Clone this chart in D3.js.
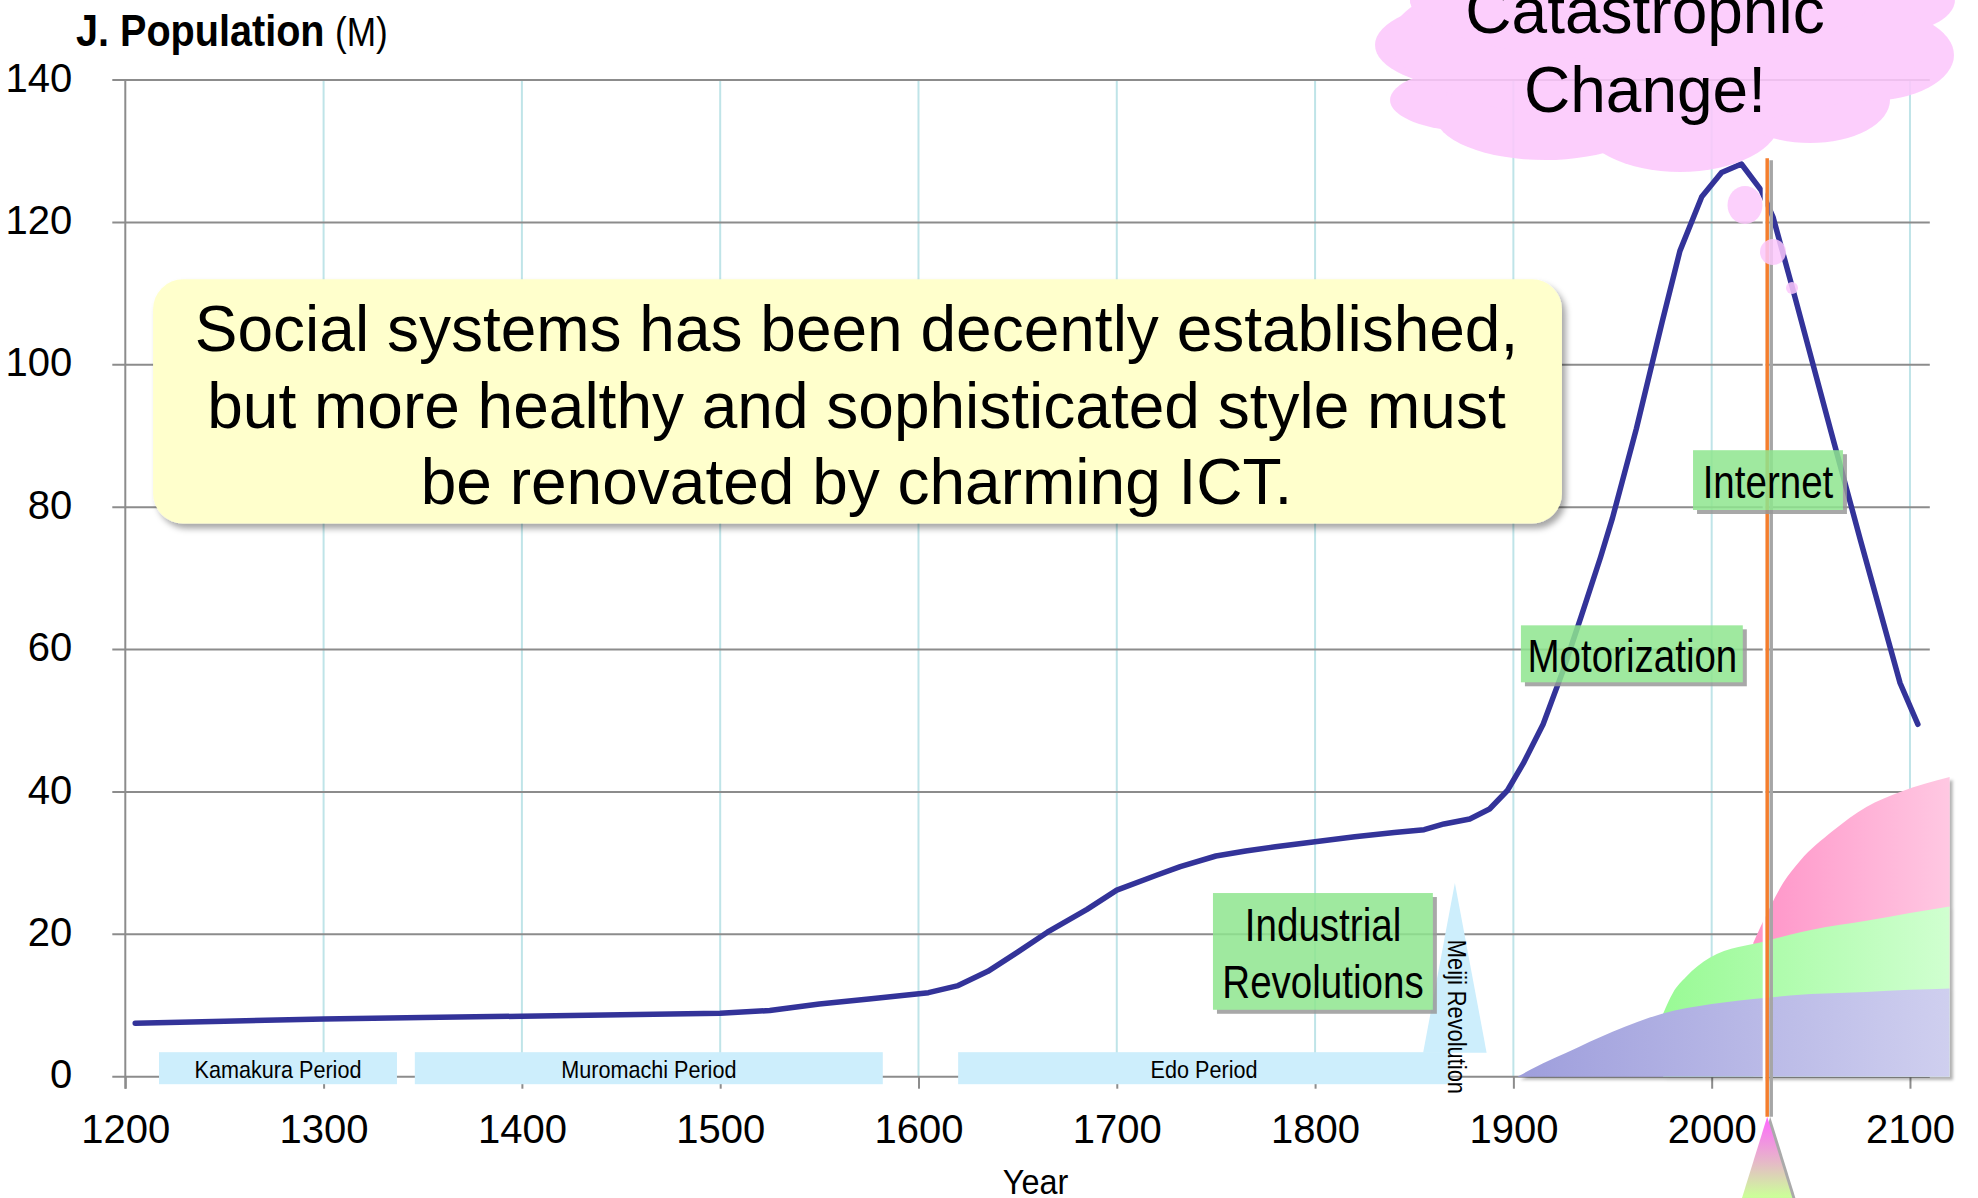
<!DOCTYPE html>
<html>
<head>
<meta charset="utf-8">
<script src="https://cdn.jsdelivr.net/npm/d3@7"></script>
<style>
  html, body { margin: 0; padding: 0; background: #fff; overflow: hidden; }
  svg { display: block; }
  text { font-family: "Liberation Sans", Arial, sans-serif; fill: #000; }
</style>
</head>
<body>
<svg id="chart" width="1978" height="1198"></svg>
<script>

// population of Japan, millions
const popYears  = [1205, 1250, 1300, 1350, 1400, 1450, 1500, 1525, 1550, 1575,
                   1605, 1620, 1635, 1650, 1665, 1685, 1700, 1720, 1732, 1750,
                   1765, 1780, 1800, 1820, 1840, 1855, 1865, 1878, 1888, 1897,
                   1905, 1915, 1925, 1934, 1944, 1950, 1962, 1975, 1984, 1995,
                   2005, 2015, 2025, 2031, 2042, 2060, 2075, 2095, 2104];
const popValues = [7.5, 7.8, 8.1, 8.3, 8.5, 8.7, 8.9, 9.3, 10.2, 10.9,
                   11.8, 12.8, 14.8, 17.5, 20.3, 23.5, 26.2, 28.3, 29.5, 31,
                   31.7, 32.3, 33, 33.7, 34.3, 34.7, 35.5, 36.2, 37.6, 40.2,
                   44, 49.5, 57, 64.5, 73, 78.5, 91, 106, 116, 123.6,
                   127, 128.2, 124.5, 120.7, 109.5, 90.8, 75.4, 55.3, 49.5];

const xTicks = [1200, 1300, 1400, 1500, 1600, 1700, 1800, 1900, 2000, 2100];
const yTicks = [0, 20, 40, 60, 80, 100, 120, 140];

// historical periods
const periodNames = ["Kamakura Period", "Muromachi Period", "Edo Period"];
const periodStart = [1217, 1346, 1620];
const periodEnd   = [1337, 1582, 1868];

// ICT growth layers (top edge of each band)
const blueYears  = [1902, 1915, 1927, 1950, 1975, 2000, 2028, 2050, 2078, 2100, 2120];
const blueTop    = [0, 1.9, 3.4, 6.3, 8.85, 10.2, 11.1, 11.6, 11.9, 12.2, 12.4];
const greenYears = [1975.5, 1980.5, 1987, 1999, 2028, 2050, 2078, 2100, 2120];
const greenTop   = [8.85, 11.8, 14, 16.7, 19.1, 20.6, 21.9, 23, 23.9];
const pinkYears  = [2021, 2028, 2036, 2044.5, 2061, 2078, 2095, 2120];
const pinkTop    = [18.8, 23, 27.2, 30.3, 34.5, 37.9, 40, 42.1];

const milestoneYear = 2028;

const svg = d3.select("#chart");
const x = d3.scaleLinear().domain([1200, 2110]).range([125.3, 1929.8]);
const y = d3.scaleLinear().domain([0, 140]).range([1076.7, 80]);

const defs = svg.append("defs");

let grad = (id, stops, vertical) => {
  let g = defs.append("linearGradient").attr("id", id)
    .attr("x1", 0).attr("y1", 0)
    .attr("x2", vertical ? 0 : 1).attr("y2", vertical ? 1 : 0);
  stops.forEach(([o, c]) => g.append("stop").attr("offset", o).attr("stop-color", c));
};
grad("gBlue",  [[0, "#9e9edc"], [1, "#cfcfef"]]);
grad("gGreen", [[0, "#99fa95"], [1, "#d0ffd0"]]);
grad("gPink",  [[0, "#ff94c8"], [1, "#ffc8e2"]]);
grad("gTri",   [[0, "#ff66ff"], [0.45, "#e6b8c8"], [0.8, "#ccff99"], [1, "#99b0dd"]], true);

let shadow = defs.append("filter").attr("id", "shadow")
  .attr("x", "-5%").attr("y", "-5%").attr("width", "115%").attr("height", "120%");
shadow.append("feDropShadow").attr("dx", 4).attr("dy", 5)
  .attr("stdDeviation", 3).attr("flood-color", "#000").attr("flood-opacity", 0.35);

let areaShadow = defs.append("filter").attr("id", "areaShadow")
  .attr("x", "-5%").attr("y", "-5%").attr("width", "115%").attr("height", "120%");
areaShadow.append("feDropShadow").attr("dx", 3).attr("dy", 3)
  .attr("stdDeviation", 1.5).attr("flood-color", "#000").attr("flood-opacity", 0.3);

// ---- grid
svg.append("g").selectAll("line")
  .data(xTicks.slice(1))
  .join("line")
    .attr("x1", d => x(d)).attr("x2", d => x(d))
    .attr("y1", y(140)).attr("y2", y(0))
    .attr("stroke", "#bfe4e8").attr("stroke-width", 2);

svg.append("g").selectAll("line")
  .data(yTicks)
  .join("line")
    .attr("x1", x(1200) - 13).attr("x2", x(2110))
    .attr("y1", d => y(d)).attr("y2", d => y(d))
    .attr("stroke", "#8c8c8c").attr("stroke-width", 2);

svg.append("line")
  .attr("x1", x(1200)).attr("x2", x(1200))
  .attr("y1", y(140)).attr("y2", y(0) + 12)
  .attr("stroke", "#8c8c8c").attr("stroke-width", 2);

// ---- axes
let xAxis = svg.append("g")
  .attr("transform", `translate(0,${y(0)})`)
  .call(d3.axisBottom(x).tickValues(xTicks).tickSize(12).tickFormat(d3.format("d")));
xAxis.select(".domain").remove();
xAxis.selectAll(".tick line").attr("stroke", "#8c8c8c").attr("stroke-width", 2);
xAxis.selectAll(".tick text")
  .attr("y", 66).attr("dy", null)
  .style("font-size", "40px").style("font-family", "Liberation Sans, Arial, sans-serif");

let yAxis = svg.append("g")
  .attr("transform", `translate(${x(1200)},0)`)
  .call(d3.axisLeft(y).tickValues(yTicks).tickSize(0).tickPadding(53));
yAxis.select(".domain").remove();
yAxis.selectAll(".tick text")
  .attr("dy", "0.28em")
  .style("font-size", "40px").style("font-family", "Liberation Sans, Arial, sans-serif");

// ---- ICT growth bands
let bandArea = d3.area().curve(d3.curveMonotoneX)
  .x(d => x(d[0])).y0(y(0)).y1(d => y(d[1]));

let bands = svg.append("g").attr("filter", "url(#areaShadow)");
[[pinkYears, pinkTop, "gPink"], [greenYears, greenTop, "gGreen"], [blueYears, blueTop, "gBlue"]]
  .forEach(([ys, vs, fill]) => {
    bands.append("path")
      .datum(d3.zip(ys, vs))
      .attr("d", bandArea)
      .attr("fill", `url(#${fill})`);
  });

// ---- periods
let periodColor = "#cdeefc";
let periods = svg.append("g");
periods.selectAll("rect")
  .data(d3.range(periodNames.length))
  .join("rect")
    .attr("x", i => x(periodStart[i]))
    .attr("width", i => x(periodEnd[i]) - x(periodStart[i]))
    .attr("y", y(0) - 24.5).attr("height", 32)
    .attr("fill", periodColor);

let narrow = (parent, str, px, py, size, sx, anchor) => parent.append("text")
  .attr("transform", `translate(${px},${py}) scale(${sx},1)`)
  .attr("text-anchor", anchor || "middle")
  .style("font-size", size + "px")
  .text(str);

periodNames.forEach((name, i) => {
  narrow(periods, name, x((periodStart[i] + periodEnd[i]) / 2), y(0) + 0.8, 24, 0.9);
});

// Meiji revolution marker
let meiji = { apex: 1870.5, left: 1854.5, right: 1886.5, top: 27.2 };
periods.append("path")
  .attr("d", `M${x(meiji.left)},${y(0) - 24} L${x(meiji.apex)},${y(meiji.top)} L${x(meiji.right)},${y(0) - 24} Z`)
  .attr("fill", periodColor);
periods.append("text")
  .attr("transform", `translate(${x(meiji.apex) - 7},${y(8.4)}) rotate(90) scale(0.84,1)`)
  .attr("text-anchor", "middle")
  .style("font-size", "26px")
  .text("Meiji Revolution");

// ---- callout
let callout = { x0: 1214, x1: 1924.5, top: 112, bottom: 77.7 };
let cg = svg.append("g");
cg.append("rect")
  .attr("x", x(callout.x0)).attr("y", y(callout.top))
  .attr("width", x(callout.x1) - x(callout.x0))
  .attr("height", y(callout.bottom) - y(callout.top))
  .attr("rx", 30).attr("ry", 30)
  .attr("fill", "#ffffcc")
  .attr("filter", "url(#shadow)");
["Social systems has been decently established,",
 "but more healthy and sophisticated style must",
 "be renovated by charming ICT."].forEach((line, i) => {
  cg.append("text")
    .attr("x", x((callout.x0 + callout.x1) / 2) - 1)
    .attr("y", y(callout.top) + 72 + i * 76.5)
    .attr("text-anchor", "middle")
    .style("font-size", "64px")
    .text(line);
});

// ---- population line
svg.append("path")
  .datum(d3.zip(popYears, popValues))
  .attr("d", d3.line().x(d => x(d[0])).y(d => y(d[1])))
  .attr("fill", "none")
  .attr("stroke", "#333399")
  .attr("stroke-width", 5.5)
  .attr("stroke-linejoin", "round")
  .attr("stroke-linecap", "round");

// ---- milestone line and arrow
let mx = x(milestoneYear);
let mg = svg.append("g");
mg.append("line").attr("x1", mx + 4).attr("x2", mx + 4).attr("y1", y(129) + 2).attr("y2", y(0) + 40)
  .attr("stroke", "#a6a6a6").attr("stroke-width", 3.5);
mg.append("line").attr("x1", mx - 3).attr("x2", mx - 3).attr("y1", y(129)).attr("y2", y(0) + 40)
  .attr("stroke", "#fff").attr("stroke-width", 3);
mg.append("line").attr("x1", mx).attr("x2", mx).attr("y1", y(129)).attr("y2", y(0) + 40)
  .attr("stroke", "#f47e2e").attr("stroke-width", 3.5);
mg.append("path")
  .attr("d", `M${mx + 3},${y(0) + 40} L${mx + 34},${y(0) + 140} L${mx - 25},${y(0) + 140} Z`)
  .attr("fill", "#aaa");
mg.append("path")
  .attr("d", `M${mx},${y(0) + 40} L${mx + 31},${y(0) + 140} L${mx - 31},${y(0) + 140} Z`)
  .attr("fill", "url(#gTri)");

// ---- green labels
let labels = [
  { lines: ["Industrial", "Revolutions"], x0: 1748.5, x1: 1859.4, top: 25.8, bottom: 9.4, cx: 1804, base: [941, 998] },
  { lines: ["Motorization"], x0: 1903.8, x1: 2015.7, top: 63.4, bottom: 55.4, cx: 1960, base: [672] },
  { lines: ["Internet"], x0: 1990.6, x1: 2066.2, top: 88, bottom: 79.6, cx: 2028.4, base: [498] }
];
labels.forEach(l => {
  let g = svg.append("g").attr("opacity", 0.85);
  let bx = x(l.x0), bw = x(l.x1) - x(l.x0), by = y(l.top), bh = y(l.bottom) - y(l.top);
  g.append("rect").attr("x", bx + 4).attr("y", by + 4).attr("width", bw).attr("height", bh).attr("fill", "#999");
  g.append("rect").attr("x", bx).attr("y", by).attr("width", bw).attr("height", bh).attr("fill", "#8fe68f");
  l.lines.forEach((t, i) => narrow(svg, t, x(l.cx), l.base[i], 47, 0.82));
});

// ---- thought cloud
let cloud = svg.append("g").attr("opacity", 0.88);
[[1470, 45, 95, 42], [1470, 100, 80, 31], [1545, 115, 110, 45], [1680, 120, 100, 52],
 [1810, 100, 80, 43], [1868, 55, 86, 46], [1880, 0, 75, 35], [1660, 40, 270, 85],
 [1500, 0, 90, 30], [1640, 0, 230, 60]].forEach(([cx, cy, rx, ry]) => {
  cloud.append("ellipse").attr("cx", cx).attr("cy", cy).attr("rx", rx).attr("ry", ry).attr("fill", "#fcc8fc");
});
[[1745, 205, 17.5, 19], [1773, 252, 13, 13], [1792, 288, 6, 6]].forEach(([cx, cy, rx, ry]) => {
  svg.append("ellipse").attr("cx", cx).attr("cy", cy).attr("rx", rx).attr("ry", ry)
    .attr("fill", "#fcc8fc").attr("opacity", 0.85);
});
["Catastrophic", "Change!"].forEach((t, i) => {
  svg.append("text")
    .attr("x", 1645).attr("y", 33 + i * 78.5)
    .attr("text-anchor", "middle")
    .style("font-size", "64px")
    .text(t);
});

// ---- titles
let title = svg.append("text")
  .attr("transform", "translate(76,46) scale(0.88,1)");
title.append("tspan").style("font-weight", "bold").style("font-size", "45px").text("J. Population");
title.append("tspan").attr("dx", 12).style("font-size", "40px").text("(M)");

narrow(svg, "Year", x(1659), 1194, 36, 0.9);

</script>
</body>
</html>
